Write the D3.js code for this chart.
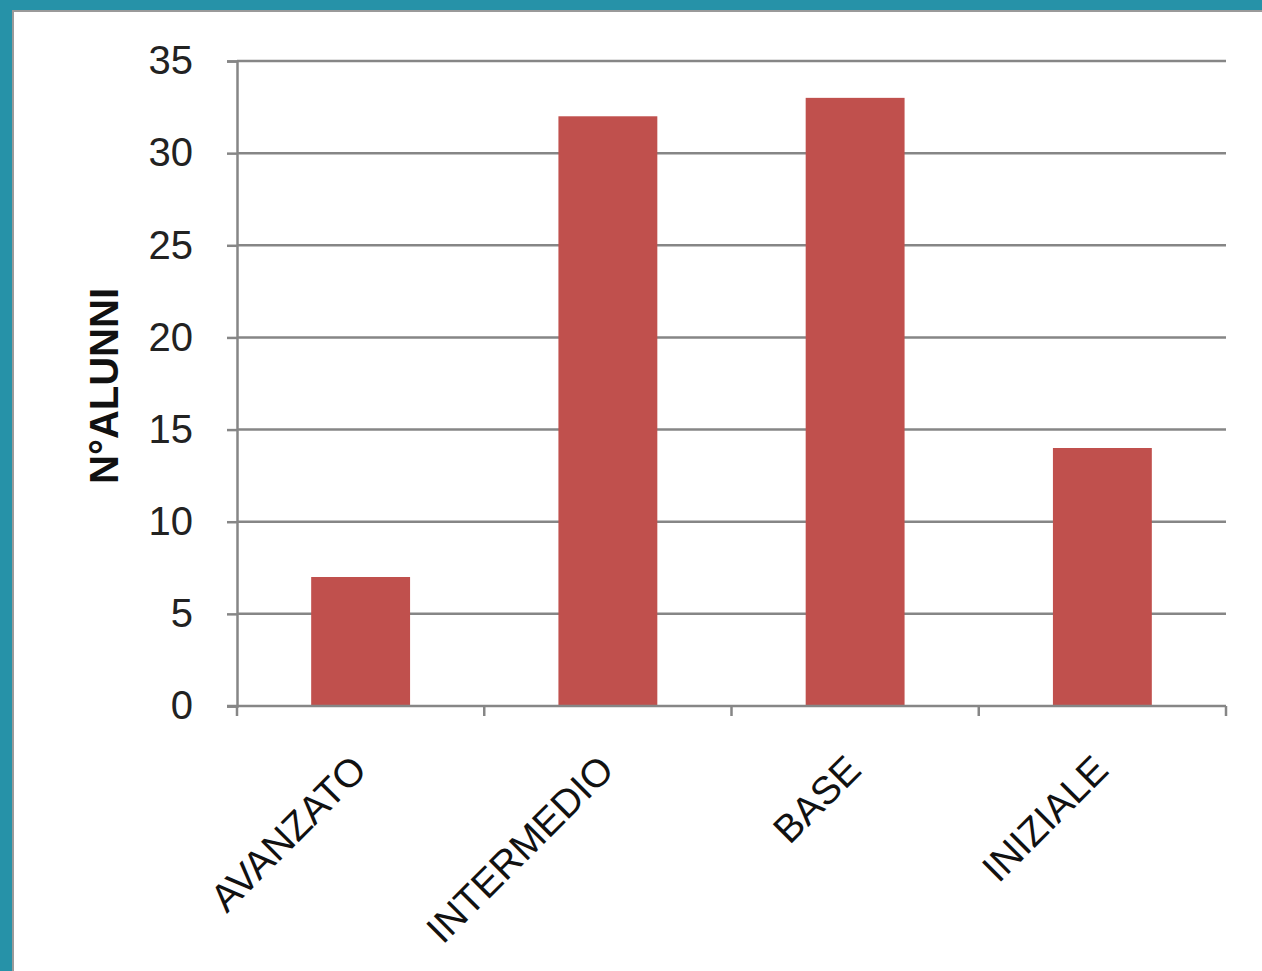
<!DOCTYPE html>
<html>
<head>
<meta charset="utf-8">
<script src="https://cdn.jsdelivr.net/npm/d3@7"></script>
<style>
  body { margin: 0; background: #ffffff; }
  #chart { width: 1262px; height: 971px; }
</style>
</head>
<body>
<div id="chart"></div>
<script>
// Dati del grafico
const categorie = ["AVANZATO", "INTERMEDIO", "BASE", "INIZIALE"];
const valori = [7, 32, 33, 14];
const tickValori = [0, 5, 10, 15, 20, 25, 30, 35];

// Dimensioni
const width = 1262;
const height = 971;
const margin = { top: 61, right: 36, bottom: 265, left: 237 };
const effectiveWidth = width - margin.left - margin.right;
const effectiveHeight = height - margin.top - margin.bottom;

const root = d3.select("#chart")
    .append("svg")
    .attr("width", width)
    .attr("height", height);

// Cornice (bordo teal a sinistra e in alto)
root.append("rect").attr("x", 0).attr("y", 0).attr("width", width).attr("height", height).attr("fill", "#ffffff");
root.append("rect").attr("x", 0).attr("y", 0).attr("width", 12).attr("height", height).attr("fill", "#2692a8");
root.append("rect").attr("x", 0).attr("y", 0).attr("width", width).attr("height", 10).attr("fill", "#2692a8");
root.append("line").attr("x1", 13).attr("x2", 13).attr("y1", 10).attr("y2", height)
    .attr("stroke", "#9a9a9a").attr("stroke-width", 2);
root.append("line").attr("x1", 12).attr("x2", width).attr("y1", 11).attr("y2", 11)
    .attr("stroke", "#9a9a9a").attr("stroke-width", 2);

const svg = root.append("g")
    .attr("transform", `translate(${margin.left},${margin.top})`);

// Scale
const xScale = d3.scaleBand()
    .domain(categorie)
    .range([0, effectiveWidth])
    .paddingInner(0.6)
    .paddingOuter(0.3);

const yScale = d3.scaleLinear()
    .domain([0, 35])
    .range([effectiveHeight, 0]);

const grigio = "#868686";

// Griglia orizzontale
svg.append("g")
    .selectAll("line")
    .data(tickValori.filter(d => d > 0))
    .enter()
    .append("line")
    .attr("x1", 0)
    .attr("x2", effectiveWidth)
    .attr("y1", d => yScale(d))
    .attr("y2", d => yScale(d))
    .attr("stroke", grigio)
    .attr("stroke-width", 2.5);

// Barre
svg.selectAll(".bar")
    .data(valori)
    .enter()
    .append("rect")
    .attr("class", "bar")
    .attr("x", (d, i) => xScale(categorie[i]))
    .attr("y", d => yScale(d))
    .attr("width", xScale.bandwidth())
    .attr("height", d => effectiveHeight - yScale(d))
    .attr("fill", "#c0504d");

// Asse Y
const yAxis = svg.append("g")
    .call(d3.axisLeft(yScale).tickValues(tickValori).tickSize(10).tickPadding(34));
yAxis.select(".domain").attr("stroke", grigio).attr("stroke-width", 2.5);
yAxis.selectAll(".tick line").attr("stroke", grigio).attr("stroke-width", 2.5);
yAxis.selectAll(".tick text")
    .attr("fill", "#222")
    .style("font-family", "'Liberation Sans', Arial, sans-serif")
    .style("font-size", "40px");

// Asse X
const xAxis = svg.append("g")
    .attr("transform", `translate(0,${effectiveHeight})`);
xAxis.append("line")
    .attr("x1", -10).attr("x2", effectiveWidth)
    .attr("y1", 0).attr("y2", 0)
    .attr("stroke", grigio).attr("stroke-width", 2.5);
const xTicks = categorie.map(c => xScale(c) - xScale.step() * xScale.paddingInner() / 2);
xTicks.push(effectiveWidth);
xAxis.selectAll(".xtick")
    .data(xTicks)
    .enter()
    .append("line")
    .attr("x1", d => d).attr("x2", d => d)
    .attr("y1", 0).attr("y2", 10)
    .attr("stroke", grigio).attr("stroke-width", 2.5);
xAxis.selectAll(".xlabel")
    .data(categorie)
    .enter()
    .append("text")
    .attr("transform", d => `translate(${xScale(d) + xScale.bandwidth() / 2 + 8},66) rotate(-45)`)
    .attr("text-anchor", "end")
    .attr("fill", "#111")
    .style("font-family", "'Liberation Sans', Arial, sans-serif")
    .style("font-size", "39px")
    .text(d => d);

// Titolo asse Y
svg.append("text")
    .attr("transform", `translate(${118 - margin.left},${386 - margin.top}) rotate(-90)`)
    .attr("text-anchor", "middle")
    .attr("fill", "#111")
    .style("font-family", "'Liberation Sans', Arial, sans-serif")
    .style("font-weight", "bold")
    .style("font-size", "40px")
    .text("N°ALUNNI");
</script>
</body>
</html>
